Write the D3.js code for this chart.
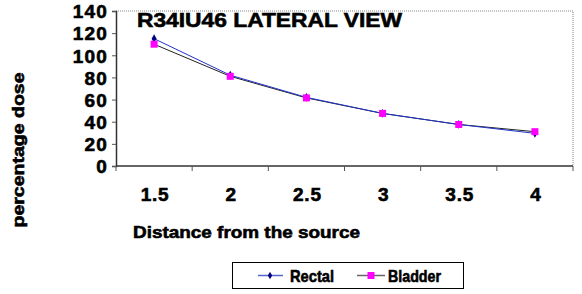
<!DOCTYPE html>
<html><head><meta charset="utf-8">
<script src="https://cdn.jsdelivr.net/npm/d3@7"></script>
<style>
html,body{margin:0;padding:0;background:#fff;}
svg text{font-family:"Liberation Sans",Arial,sans-serif;font-weight:bold;fill:#000;stroke:#000;stroke-width:0.6px;}
</style></head>
<body><svg id="c" width="582" height="294"></svg>
<script>
const categories = ["1.5","2","2.5","3","3.5","4"];
const rectal = [115, 82, 62, 47.5, 37.5, 29.5];
const bladder = [110, 81, 61.5, 47.5, 37.5, 31];
const yTicks = [0,20,40,60,80,100,120,140];
const seriesNames = ["Rectal","Bladder"];
const titleText = "R34IU46 LATERAL VIEW";
const xTitle = "Distance from the source";
const yTitle = "percentage dose";

const svg = d3.select("#c");
const L=116, R=573, T=11, B=166;
const x = d3.scaleBand().domain(categories).range([L,R]).padding(0);
const y = d3.scaleLinear().domain([0,140]).range([B,T]);
const cx = c => x(c) + x.bandwidth()/2;

// plot border (top/right dotted)
svg.append("path").attr("d",`M${L},${T}H${R}V${B}`).attr("fill","none")
  .attr("stroke","#888").attr("stroke-width",1).attr("stroke-dasharray","1,1");

// y axis
const ya = svg.append("g").attr("transform",`translate(${L},0)`)
  .call(d3.axisLeft(y).tickValues(yTicks).tickSize(4).tickPadding(4).tickFormat(d3.format("d")));
ya.select(".domain").attr("stroke","#333").attr("stroke-width",1.5);
ya.selectAll(".tick line").attr("stroke","#555");
ya.selectAll(".tick text").attr("font-size",19).attr("font-family","'Liberation Sans',Arial,sans-serif")
  .attr("font-weight","bold").attr("fill","#000").attr("letter-spacing","1.2").attr("dy","0.36em");

// x axis
const xa = svg.append("g");
xa.append("line").attr("x1",L).attr("x2",R).attr("y1",B).attr("y2",B).attr("stroke","#333").attr("stroke-width",1.5);
const bounds = categories.map(c=>x(c)).concat([x.range()[1]]);
xa.selectAll("line.tk").data(bounds).join("line").attr("class","tk")
  .attr("x1",d=>d).attr("x2",d=>d).attr("y1",B).attr("y2",B+5).attr("stroke","#555");
xa.selectAll("text").data(categories).join("text")
  .attr("x",d=>cx(d)+1).attr("y",201).attr("text-anchor","middle").attr("font-size",19).attr("letter-spacing","0.8").text(d=>d);

// lines
const line = (vals) => d3.line().x((d,i)=>cx(categories[i])).y(d=>y(d))(vals);
svg.append("path").attr("d",line(bladder)).attr("fill","none").attr("stroke","#222").attr("stroke-width",1);
svg.append("path").attr("d",line(rectal)).attr("fill","none").attr("stroke","#2233cc").attr("stroke-width",1);

// markers
svg.selectAll("path.rm").data(rectal).join("path").attr("class","rm")
  .attr("d",d3.symbol(d3.symbolDiamond,22)())
  .attr("transform",(d,i)=>`translate(${cx(categories[i])},${y(d)})`).attr("fill","#000080");
svg.selectAll("rect.bm").data(bladder).join("rect").attr("class","bm")
  .attr("x",(d,i)=>cx(categories[i])-3.5).attr("y",d=>y(d)-3.5).attr("width",7).attr("height",7).attr("fill","#ff00ff");

// title
svg.append("text").attr("x",137).attr("y",27).attr("font-size",20).attr("textLength",265)
  .attr("lengthAdjust","spacingAndGlyphs").text(titleText);
// x title
svg.append("text").attr("x",133).attr("y",238).attr("font-size",17).attr("textLength",227)
  .attr("lengthAdjust","spacingAndGlyphs").text(xTitle);
// y title
svg.append("text").attr("transform","translate(24,150) rotate(-90)").attr("text-anchor","middle")
  .attr("font-size",17).attr("textLength",155).attr("lengthAdjust","spacingAndGlyphs").text(yTitle);

// legend
const lg = svg.append("g");
lg.append("rect").attr("x",232.5).attr("y",262.5).attr("width",231).attr("height",26)
  .attr("fill","#fff").attr("stroke","#000").attr("stroke-width",1);
// Rectal
lg.append("line").attr("x1",258).attr("x2",283).attr("y1",275.5).attr("y2",275.5).attr("stroke","#5566cc").attr("stroke-width",1.5);
lg.append("path").attr("d",d3.symbol(d3.symbolDiamond,16)()).attr("transform","translate(270,275.5)").attr("fill","#000080");
lg.append("text").attr("x",290).attr("y",282).attr("font-size",17).attr("textLength",44)
  .attr("lengthAdjust","spacingAndGlyphs").text(seriesNames[0]);
// Bladder
lg.append("line").attr("x1",357).attr("x2",385).attr("y1",275.5).attr("y2",275.5).attr("stroke","#666").attr("stroke-width",1.5);
lg.append("rect").attr("x",367.5).attr("y",272).attr("width",7).attr("height",7).attr("fill","#ff00ff");
lg.append("text").attr("x",388).attr("y",282).attr("font-size",17).attr("textLength",53)
  .attr("lengthAdjust","spacingAndGlyphs").text(seriesNames[1]);
</script></body></html>
